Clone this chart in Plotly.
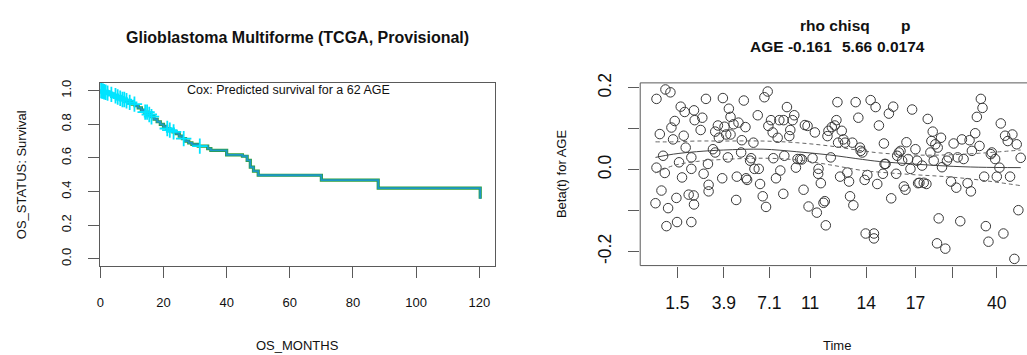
import plotly.graph_objects as go

# ---- left panel: predicted survival (months vs survival probability)
km_months = [0, 0.5, 1, 1.5, 2, 3, 4, 5, 6, 7, 8, 9, 10, 11, 12, 13, 14, 15, 16, 17,
             18, 19, 20, 21, 22, 23, 24, 25, 26, 27, 28, 29, 31, 34, 35, 40, 45,
             46.5, 47.5, 48.5, 50, 70, 88, 120.3]
km_surv = [1.0, 0.997, 0.993, 0.99, 0.985, 0.978, 0.97, 0.962, 0.955, 0.947, 0.94, 0.93,
           0.92, 0.91, 0.897, 0.885, 0.872, 0.858, 0.845, 0.83, 0.815, 0.80, 0.787, 0.775,
           0.765, 0.755, 0.745, 0.73, 0.715, 0.70, 0.69, 0.68, 0.67, 0.655, 0.645, 0.618,
           0.61, 0.585, 0.545, 0.522, 0.497, 0.468, 0.42, 0.357]
censor_months = [0.1, 0.3, 0.6, 0.9, 1.2, 1.7, 2.3, 3.5, 4.8, 5.5, 6.3, 7.0, 7.6, 8.3,
                 9.3, 10.8, 14.2, 14.8, 15.5, 16.2, 21.2, 22.0, 23.2, 26.4, 31.5]
censor_surv = [1.0, 1.0, 0.997, 0.997, 0.993, 0.99, 0.985, 0.978, 0.97, 0.962, 0.955,
               0.947, 0.947, 0.94, 0.93, 0.92, 0.872, 0.872, 0.858, 0.845, 0.775, 0.765,
               0.755, 0.715, 0.67]

# ---- right panel: Beta(t) for AGE against km-transformed time
resid_time = [4.9, 7.6, 9.1, 5.9, 6.9, 4.9, 4.6, 6.4, 7.4, 8.4, 7.9, 9.4, 10.4, 9.9, 10.9,
              11.1, 12.2, 13.4, 13.1, 13.7, 11.7, 12.6, 14.6, 15.4, 15.4, 16.2, 16.4, 16.1,
              16.2, 15.4, 18.2, 18.7, 19.1, 19.8, 20.4, 20.6, 20.6, 21.9, 22.6, 22.6, 23.4,
              23.7, 24.9, 24.7, 25.4, 25.9, 26.4, 26.7, 27.2, 27.2, 28.1, 29.1, 28.9, 29.6,
              30.4, 30.6, 31.2, 31.7, 31.9, 32.2, 33.1, 33.4, 34.1, 34.4, 35.4, 35.7, 36.1,
              36.9, 37.4, 38.4, 37.9, 38.6, 39.4, 39.9, 40.1, 40.9, 41.4, 41.9, 43.2, 43.1,
              42.2, 43.4, 44.2, 44.9, 45.2, 45.9, 46.4, 46.9, 47.4, 48.2, 48.7, 49.2, 49.6,
              50.7, 50.4, 51.9, 52.6, 53.2, 53.7, 53.6, 54.4, 55.2, 55.6, 55.9, 56.4, 56.7,
              57.4, 57.7, 58.6, 59.1, 59.4, 59.6, 60.2, 60.7, 61.2, 61.7, 62.4, 62.9, 63.2,
              64.2, 63.9, 64.9, 65.7, 66.2, 66.4, 66.9, 67.6, 67.9, 68.4, 69.4, 70.4, 70.9,
              70.4, 71.4, 71.9, 73.1, 73.4, 73.6, 73.9, 74.9, 75.6, 76.2, 77.1, 77.4, 77.9,
              78.4, 78.9, 79.4, 79.9, 80.2, 80.7, 81.4, 81.9, 82.9, 83.4, 83.7, 84.1, 84.9,
              85.4, 86.2, 86.6, 87.4, 88.1, 87.7, 88.4, 88.9, 89.6, 89.9, 89.4, 90.6, 90.9,
              91.9, 92.4, 92.9, 93.6, 94.4, 95.2, 95.6, 96.4, 96.9, 97.4, 98.6, 99.2, 99.6,
              99.9, 100.9, 101.4, 102.2, 102.6, 103.1, 103.6, 104.1, 104.9, 105.6, 105.9,
              106.9, 107.4, 108.2, 108.6, 109.4, 109.9, 110.7, 111.4, 112.1, 112.7, 113.4,
              113.9, 114.6]
resid_beta = [0.173, 0.196, 0.189, 0.087, 0.034, 0.005, -0.082, -0.051, -0.008, -0.094,
              -0.138, 0.103, 0.119, 0.074, -0.069, -0.128, 0.154, 0.141, 0.083, 0.054, 0.018,
              -0.019, -0.061, 0.002, 0.030, 0.145, 0.121, -0.063, -0.085, -0.128, 0.097,
              0.127, -0.010, 0.173, 0.014, -0.037, -0.053, 0.050, 0.093, 0.042, 0.108, 0.078,
              0.175, -0.021, 0.105, 0.086, 0.030, 0.149, 0.129, 0.086, 0.111, -0.017, -0.074,
              0.115, 0.042, 0.072, 0.169, 0.104, -0.021, -0.025, 0.022, 0.028, 0.066, 0.002,
              0.133, 0.002, -0.035, -0.065, 0.177, 0.191, -0.091, 0.107, 0.121, 0.091, 0.028,
              -0.021, 0.078, 0.121, 0.121, -0.059, -0.002, 0.034, 0.153, 0.082, 0.097, 0.121,
              0.133, 0.005, 0.026, 0.026, 0.025, -0.049, 0.109, -0.090, 0.107, 0.028, 0.091,
              -0.105, 0.002, -0.010, -0.033, -0.081, -0.077, -0.136, 0.082, 0.095, 0.030,
              0.104, 0.108, 0.121, 0.165, 0.066, -0.017, 0.095, 0.074, 0.066, -0.007, -0.029,
              -0.065, -0.087, 0.066, 0.165, 0.127, 0.054, 0.046, 0.042, -0.025, -0.156,
              -0.013, 0.170, -0.168, 0.153, -0.156, -0.035, 0.108, -0.010, 0.064, 0.014,
              0.014, 0.137, -0.070, 0.154, -0.010, 0.034, 0.042, 0.046, 0.022, -0.041,
              -0.049, 0.067, 0.026, 0.002, 0.147, 0.050, 0.022, -0.033, -0.032, 0.010,
              -0.032, -0.035, 0.124, 0.042, 0.093, 0.070, 0.022, 0.062, 0.054, -0.119,
              -0.180, 0.078, 0.006, -0.193, 0.022, 0.030, -0.029, 0.064, -0.044, 0.030,
              -0.126, 0.074, 0.026, -0.033, 0.072, -0.053, 0.046, 0.089, 0.129, 0.058, 0.173,
              0.151, -0.017, -0.138, -0.176, 0.038, 0.042, 0.026, -0.017, 0.005, 0.113,
              -0.156, 0.083, 0.070, -0.017, 0.086, -0.218, 0.062, -0.099, 0.029]
smooth_time = [4.6, 10, 17, 25, 37, 47, 57, 67, 72, 82, 92, 102, 114.6]
smooth_beta = [0.030, 0.038, 0.044, 0.048, 0.050, 0.044, 0.036, 0.025, 0.020, 0.014, 0.009,
               0.006, 0.005]
smooth_upper = [0.068, 0.068, 0.070, 0.070, 0.070, 0.066, 0.058, 0.046, 0.041, 0.036, 0.036,
                0.040, 0.048]
smooth_lower = [-0.008, 0.010, 0.020, 0.025, 0.028, 0.024, 0.012, -0.002, -0.006, -0.012,
                -0.017, -0.025, -0.039]
time_tickvals = [11.2, 25.2, 38.9, 51.2, 68.1, 82.9, 94.2, 107.4]
time_ticktext = ["1.5", "3.9", "7.1", "11", "14", "17", "", "40"]

W, H = 1027, 355
FONT = "Liberation Sans, Arial, Helvetica, sans-serif"
BOX = "#5a5a5a"
CYAN = "#00e4ff"
Y_DOM = [1 - 263 / H, 1 - 75 / H]

fig = go.Figure()

# survival curve (drawn twice for the green / teal overlap seen in the original)
fig.add_trace(go.Scatter(x=km_months, y=km_surv, mode="lines", line_shape="hv",
                         line=dict(color="#2f9e3a", width=3.2), hoverinfo="skip",
                         xaxis="x", yaxis="y"))
fig.add_trace(go.Scatter(x=km_months, y=km_surv, mode="lines", line_shape="hv",
                         line=dict(color="#1c98c8", width=1.8),
                         xaxis="x", yaxis="y"))
fig.add_trace(go.Scatter(x=censor_months, y=censor_surv, mode="markers",
                         marker=dict(symbol="cross-thin-open", size=11, color=CYAN,
                                     line=dict(color=CYAN, width=1.8)),
                         xaxis="x", yaxis="y"))

# residuals + smooth with confidence bands
fig.add_trace(go.Scatter(x=resid_time, y=resid_beta, mode="markers",
                         marker=dict(symbol="circle-open", size=9.5, color="#383838",
                                     line=dict(width=1)),
                         xaxis="x2", yaxis="y2"))
fig.add_trace(go.Scatter(x=smooth_time, y=smooth_beta, mode="lines", line_shape="spline",
                         line=dict(color="#444444", width=1), xaxis="x2", yaxis="y2"))
for band in (smooth_upper, smooth_lower):
    fig.add_trace(go.Scatter(x=smooth_time, y=band, mode="lines", line_shape="spline",
                             line=dict(color="#666666", width=1, dash="4px,3px"),
                             xaxis="x2", yaxis="y2"))

tick_font_l = dict(family=FONT, size=13, color="#111")
tick_font_r = dict(family=FONT, size=17.5, color="#111")

fig.update_layout(
    width=W, height=H,
    margin=dict(l=0, r=0, t=0, b=0),
    paper_bgcolor="white", plot_bgcolor="white",
    showlegend=False,
    font=dict(family=FONT, color="#111"),
    xaxis=dict(domain=[96.7 / W, 493.3 / W], range=[0, 125.1],
               tickvals=[0, 20, 40, 60, 80, 100, 120],
               ticks="outside", ticklen=11, tickcolor=BOX, tickfont=tick_font_l,
               ticklabelstandoff=14,
               showline=True, mirror=True, linecolor=BOX, linewidth=1,
               showgrid=False, zeroline=False, anchor="y"),
    yaxis=dict(domain=Y_DOM, range=[-0.04, 1.046],
               tickvals=[0, 0.2, 0.4, 0.6, 0.8, 1.0],
               ticktext=["0.0", "0.2", "0.4", "0.6", "0.8", "1.0"],
               tickangle=-90, ticks="outside", ticklen=11, tickcolor=BOX,
               tickfont=tick_font_l, ticklabelstandoff=12,
               showline=True, mirror=True, linecolor=BOX, linewidth=1,
               showgrid=False, zeroline=False, anchor="x"),
    xaxis2=dict(domain=[638.7 / W, 1.0], range=[0, 116.5],
                tickvals=time_tickvals, ticktext=time_ticktext,
                ticks="outside", ticklen=11, tickcolor=BOX, tickfont=tick_font_r,
                ticklabelstandoff=10,
                showline=False, showgrid=False, zeroline=False, anchor="y2"),
    yaxis2=dict(domain=Y_DOM, range=[-0.2344, 0.2121],
                tickvals=[-0.2, -0.1, 0, 0.1, 0.2],
                ticktext=["-0.2", "", "0.0", "", "0.2"],
                tickangle=-90, ticks="outside", ticklen=11, tickcolor=BOX,
                tickfont=tick_font_r, ticklabelstandoff=10,
                showline=False, showgrid=False, zeroline=False, anchor="x2"),
    shapes=[dict(type="rect", xref="paper", yref="paper",
                 x0=638.7 / W, x1=1.03, y0=Y_DOM[0], y1=Y_DOM[1],
                 line=dict(color=BOX, width=1))],
)


def label(text, px, py, size=13, bold=False, angle=0):
    fig.add_annotation(text=f"<b>{text}</b>" if bold else text,
                       x=px / W, y=1 - py / H, xref="paper", yref="paper",
                       showarrow=False, textangle=angle,
                       xanchor="center", yanchor="middle",
                       font=dict(family=FONT, size=size, color="#111"))


label("Glioblastoma Multiforme (TCGA, Provisional)", 295, 28, size=16, bold=True)
label("Cox: Predicted survival for a 62 AGE", 286, 82, size=12.5)
label("OS_MONTHS", 295, 345, size=13)
label("OS_STATUS: Survival", 17, 169, size=13, angle=-90)

label("rho chisq", 834.7, 16, size=15.5, bold=True)
label("p", 905, 16, size=15.5, bold=True)
label("AGE -0.161", 790.5, 38, size=15.5, bold=True)
label("5.66", 857, 38, size=15.5, bold=True)
label("0.0174", 901, 38, size=15.5, bold=True)
label("Time", 836, 345, size=13)
label("Beta(t) for AGE", 559, 169, size=13, angle=-90)

# the page body keeps its default 8px margin otherwise, which shifts the chart
fig.write_html("out.html", config={"displayModeBar": False},
               post_script="document.body.style.margin='0';"
                           "document.body.style.overflow='hidden';")
